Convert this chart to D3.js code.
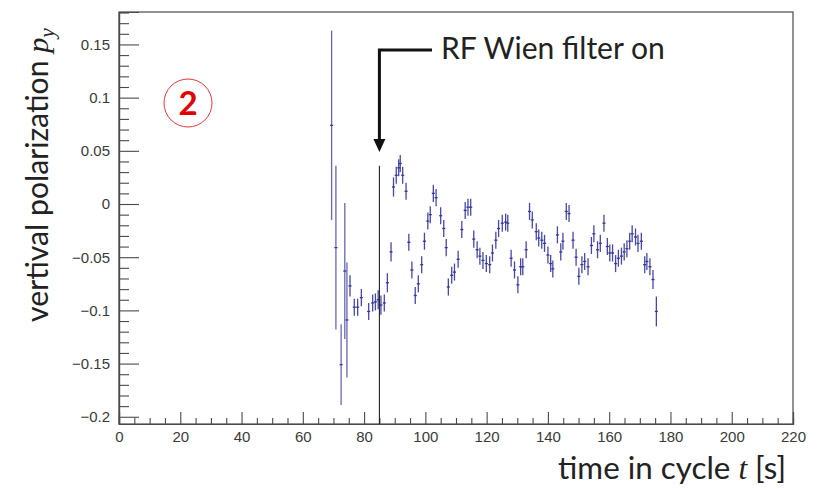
<!DOCTYPE html>
<html>
<head>
<meta charset="utf-8">
<script src="https://cdn.jsdelivr.net/npm/d3@7/dist/d3.min.js"></script>
<style>
  body { margin: 0; background: #fff; }
  svg { display: block; }
</style>
</head>
<body>
<svg id="chart" width="831" height="489"></svg>
<script>
// ---- data ----
const times = [69.4, 70.8, 72.5, 73.7, 74.4, 75.4, 76.8, 77.9, 79.1, 81.5, 82.8, 83.7, 84.6, 85.5, 86.6, 87.6, 88.8,
  89.6, 90.5, 91.3, 91.8, 92.6, 93.7, 94.6, 95.6, 96.7, 97.7, 98.8, 99.7, 100.8, 101.6, 102.6, 103.5, 105.0, 106.0,
  106.8, 107.5, 108.6, 109.5, 110.7, 111.9, 113.0, 113.9, 114.8, 115.8, 116.9, 117.8, 118.8, 119.9, 121.0, 121.9,
  123.0, 123.9, 125.1, 126.2, 126.9, 128.0, 129.1, 130.2, 131.1, 131.8, 132.9, 134.0, 134.9, 136.2, 137.0, 138.0,
  138.9, 140.0, 140.9, 141.6, 143.1, 144.2, 144.9, 146.0, 146.9, 148.2, 149.2, 150.1, 151.1, 152.0, 153.1, 154.2,
  155.0, 156.2, 157.1, 158.3, 159.4, 160.2, 161.1, 162.1, 163.0, 164.0, 164.9, 165.8, 166.7, 167.5, 168.6, 169.4,
  170.5, 171.6, 172.3, 173.3, 174.3, 175.4];
const polarization = [0.074, -0.041, -0.151, -0.063, -0.109, -0.077, -0.097, -0.097, -0.088, -0.101, -0.093, -0.092,
  -0.090, -0.095, -0.093, -0.074, -0.045, 0.016, 0.027, 0.034, 0.038, 0.027, 0.012, -0.036, -0.062, -0.086, -0.075,
  -0.057, -0.035, -0.016, -0.010, 0.010, 0.006, -0.011, -0.023, -0.041, -0.078, -0.067, -0.064, -0.052, -0.024,
  -0.006, -0.003, -0.003, -0.033, -0.043, -0.049, -0.053, -0.056, -0.057, -0.046, -0.034, -0.023, -0.018, -0.017,
  -0.018, -0.051, -0.062, -0.076, -0.059, -0.059, -0.043, -0.007, -0.015, -0.026, -0.032, -0.034, -0.037, -0.048,
  -0.056, -0.061, -0.029, -0.045, -0.035, -0.007, -0.009, -0.034, -0.050, -0.068, -0.057, -0.054, -0.059, -0.039,
  -0.028, -0.043, -0.037, -0.018, -0.040, -0.046, -0.046, -0.056, -0.051, -0.049, -0.045, -0.042, -0.035, -0.028,
  -0.031, -0.037, -0.035, -0.057, -0.054, -0.059, -0.071, -0.101];
const errors = [0.089, 0.077, 0.038, 0.064, 0.054, 0.010, 0.008, 0.008, 0.008, 0.008, 0.008, 0.008, 0.009, 0.009,
  0.008, 0.009, 0.009, 0.009, 0.008, 0.008, 0.008, 0.008, 0.008, 0.008, 0.008, 0.008, 0.008, 0.008, 0.008, 0.008,
  0.008, 0.008, 0.008, 0.008, 0.008, 0.008, 0.008, 0.008, 0.008, 0.008, 0.008, 0.008, 0.008, 0.008, 0.008, 0.008,
  0.008, 0.008, 0.008, 0.008, 0.008, 0.008, 0.008, 0.008, 0.008, 0.008, 0.008, 0.008, 0.008, 0.008, 0.008, 0.008,
  0.008, 0.008, 0.008, 0.008, 0.008, 0.008, 0.008, 0.008, 0.008, 0.008, 0.008, 0.008, 0.008, 0.008, 0.008, 0.008,
  0.008, 0.008, 0.008, 0.008, 0.008, 0.008, 0.008, 0.008, 0.008, 0.008, 0.008, 0.008, 0.008, 0.008, 0.008, 0.008,
  0.008, 0.008, 0.008, 0.008, 0.008, 0.008, 0.008, 0.008, 0.008, 0.009, 0.014];
const timeBinHalfWidth = 0.5;
const xTickValues = [0, 20, 40, 60, 80, 100, 120, 140, 160, 180, 200, 220];
const yTickValues = [-0.2, -0.15, -0.1, -0.05, 0, 0.05, 0.1, 0.15];
const yTickLabels = ["\u22120.2", "\u22120.15", "\u22120.1", "\u22120.05", "0", "0.05", "0.1", "0.15"];
const xDomain = [0, 220];
const yDomain = [-0.2068, 0.1805];
const wienFilterOnTime = 85;
const wienLineTop = 0.036;
const annotationText = "RF Wien filter on";
const stageLabel = "2";

// ---- layout ----
const svg = d3.select("#chart");
const pLeft = 119, pRight = 793, pTop = 12, pBottom = 424;
const x = d3.scaleLinear().domain(xDomain).range([pLeft, pRight]);
const y = d3.scaleLinear().domain(yDomain).range([pBottom, pTop]);
const axisFont = "'Liberation Sans', Arial, sans-serif";
const annFont = "Lato, 'Open Sans', sans-serif";
const frameColor = "#4a4a4a";

// fit a text element's length to a target width by scaling its font sizes
function fitText(sel, target) {
  const len = sel.node().getComputedTextLength();
  const k = target / len;
  sel.attr("font-size", +sel.attr("font-size") * k);
  sel.selectAll("tspan[font-size]").each(function () {
    const t = d3.select(this);
    t.attr("font-size", +t.attr("font-size") * k).attr("dy", +t.attr("dy") * k);
  });
}

// frame
svg.append("rect").attr("x", pLeft).attr("y", pTop).attr("width", pRight - pLeft).attr("height", pBottom - pTop)
  .attr("fill", "none").attr("stroke", frameColor).attr("stroke-width", 1.2);

// x axis
const xMinor = d3.range(0, 221, 5).filter(v => v % 20 !== 0);
const xAxisMinor = d3.axisBottom(x).tickValues(xMinor).tickSize(-6).tickFormat("");
const xAxis = d3.axisBottom(x).tickValues(xTickValues).tickSize(-12).tickPadding(7)
  .tickFormat(d3.format("d"));
const gxm = svg.append("g").attr("transform", `translate(0,${pBottom})`).call(xAxisMinor);
const gx = svg.append("g").attr("transform", `translate(0,${pBottom})`).call(xAxis);
[gxm, gx].forEach(g => {
  g.select(".domain").attr("stroke", frameColor).attr("stroke-width", 1.2);
  g.selectAll(".tick line").attr("stroke", frameColor).attr("stroke-width", 1.1);
});
gx.selectAll(".tick text").attr("font-family", axisFont).attr("font-size", 15).attr("fill", "#3a3a3a");

// y axis
const yMinor = d3.range(-20, 19, 1).map(v => v / 100).filter(v => Math.round(v * 100) % 5 !== 0);
const yAxisMinor = d3.axisLeft(y).tickValues(yMinor).tickSize(-10).tickFormat("");
const yAxis = d3.axisLeft(y).tickValues(yTickValues).tickSize(-20).tickPadding(9)
  .tickFormat((d, i) => yTickLabels[i]);
const gym = svg.append("g").attr("transform", `translate(${pLeft},0)`).call(yAxisMinor);
const gy = svg.append("g").attr("transform", `translate(${pLeft},0)`).call(yAxis);
[gym, gy].forEach(g => {
  g.select(".domain").attr("stroke", frameColor).attr("stroke-width", 1.2);
  g.selectAll(".tick line").attr("stroke", frameColor).attr("stroke-width", 1.1);
});
gy.selectAll(".tick text").attr("font-family", axisFont).attr("font-size", 15).attr("fill", "#3a3a3a");

// data: error bars
const pts = times.map((t, i) => ({ t, p: polarization[i], e: errors[i] }));
const dataColor = "#34349a";
const g = svg.append("g").attr("stroke", dataColor).attr("stroke-width", 1.3).attr("fill", "none");
g.selectAll("line.v").data(pts).join("line").attr("class", "v")
  .attr("x1", d => x(d.t)).attr("x2", d => x(d.t))
  .attr("y1", d => y(d.p - d.e)).attr("y2", d => y(d.p + d.e))
  .attr("stroke-opacity", d => d.e > 0.03 ? 0.75 : 0.9);
g.selectAll("line.h").data(pts).join("line").attr("class", "h")
  .attr("x1", d => x(d.t - timeBinHalfWidth)).attr("x2", d => x(d.t + timeBinHalfWidth))
  .attr("y1", d => y(d.p)).attr("y2", d => y(d.p));

// RF Wien filter on vertical line
svg.append("line").attr("x1", x(wienFilterOnTime)).attr("x2", x(wienFilterOnTime))
  .attr("y1", y(wienLineTop)).attr("y2", pBottom).attr("stroke", "#222").attr("stroke-width", 1.1);

// arrow
const ax = x(wienFilterOnTime);
svg.append("path").attr("d", `M432,50 H${ax} V140`).attr("fill", "none")
  .attr("stroke", "#111").attr("stroke-width", 3);
svg.append("path").attr("d", `M${ax - 6},139 L${ax + 6},139 L${ax},152 Z`).attr("fill", "#111");
const rf = svg.append("text").attr("x", 441).attr("y", 59).attr("font-family", annFont).attr("font-size", 25)
  .attr("fill", "#222").text(annotationText);
fitText(rf, 224);

// circled 2
svg.append("circle").attr("cx", 188).attr("cy", 103).attr("r", 24).attr("fill", "none")
  .attr("stroke", "#e03a3a").attr("stroke-width", 1);
svg.append("text").attr("x", 188).attr("y", 115).attr("text-anchor", "middle")
  .attr("font-family", annFont).attr("font-weight", "bold").attr("font-size", 33)
  .attr("fill", "#e00000").text(stageLabel);

// axis titles
const yt = svg.append("text").attr("transform", "translate(48,175) rotate(-90)")
  .attr("text-anchor", "middle").attr("font-family", annFont).attr("font-size", 28).attr("fill", "#222");
yt.append("tspan").text("vertival polarization ");
yt.append("tspan").attr("font-family", "'Liberation Serif', serif").attr("font-style", "italic").text("p");
yt.append("tspan").attr("font-family", "'Liberation Serif', serif").attr("font-style", "italic")
  .attr("font-size", 20).attr("dy", 6).text("y");
fitText(yt, 294);

const xt = svg.append("text").attr("x", 786).attr("y", 479).attr("text-anchor", "end")
  .attr("font-family", annFont).attr("font-size", 28).attr("fill", "#222");
xt.append("tspan").text("time in cycle ");
xt.append("tspan").attr("font-family", "'Liberation Serif', serif").attr("font-style", "italic").text("t");
xt.append("tspan").text(" [s]");
fitText(xt, 228);
</script>
</body>
</html>
